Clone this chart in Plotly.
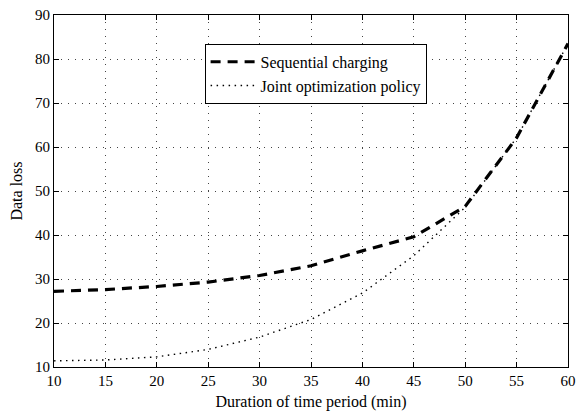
import plotly.graph_objects as go

durations = [10, 15, 20, 25, 30, 35, 40, 45, 50, 55, 60]
sequential = [27.2, 27.6, 28.3, 29.3, 30.8, 33.0, 36.4, 39.6, 46.5, 62.1, 83.5]
joint = [11.4, 11.6, 12.3, 14.0, 16.8, 20.8, 26.8, 35.3, 46.3, 62.1, 83.5]

x_ticks = [10, 15, 20, 25, 30, 35, 40, 45, 50, 55, 60]
y_ticks = [10, 20, 30, 40, 50, 60, 70, 80, 90]

font_family = "'Liberation Serif', 'Times New Roman', Times, serif"

fig = go.Figure()
fig.add_trace(go.Scatter(
    x=durations, y=sequential, mode="lines", name="Sequential charging",
    line=dict(color="black", width=3.2, dash="10px,7px"),
))
fig.add_trace(go.Scatter(
    x=durations, y=joint, mode="lines", name="Joint optimization policy",
    line=dict(color="black", width=1.4, dash="1.5px,4.5px"),
))

axis_common = dict(
    showline=True, linecolor="black", linewidth=1.2, mirror="ticks",
    ticks="inside", ticklen=5, tickcolor="black", tickwidth=1,
    showgrid=True, gridcolor="#444", gridwidth=1, griddash="1px,6px",
    zeroline=False, ticklabeloverflow="allow",
    tickfont=dict(family=font_family, size=15, color="black"),
)

fig.update_xaxes(
    range=[10, 60], tickvals=x_ticks,
    title=dict(text="Duration of time period (min)",
               font=dict(family=font_family, size=16, color="black"), standoff=7),
    **axis_common,
)
fig.update_yaxes(
    range=[10, 90], tickvals=y_ticks,
    title=dict(text="Data loss",
               font=dict(family=font_family, size=16, color="black"), standoff=8),
    **axis_common,
)

fig.update_layout(
    width=583, height=414,
    margin=dict(l=54, r=7, t=14, b=46),
    paper_bgcolor="white", plot_bgcolor="white",
    showlegend=True,
    legend=dict(
        x=0.293, y=0.918, xanchor="left", yanchor="top",
        bgcolor="white", bordercolor="black", borderwidth=1,
        font=dict(family=font_family, size=16, color="black"),
        itemwidth=45, tracegroupgap=0,
    ),
    font=dict(family=font_family, color="black"),
)

fig.write_html("out.html")
